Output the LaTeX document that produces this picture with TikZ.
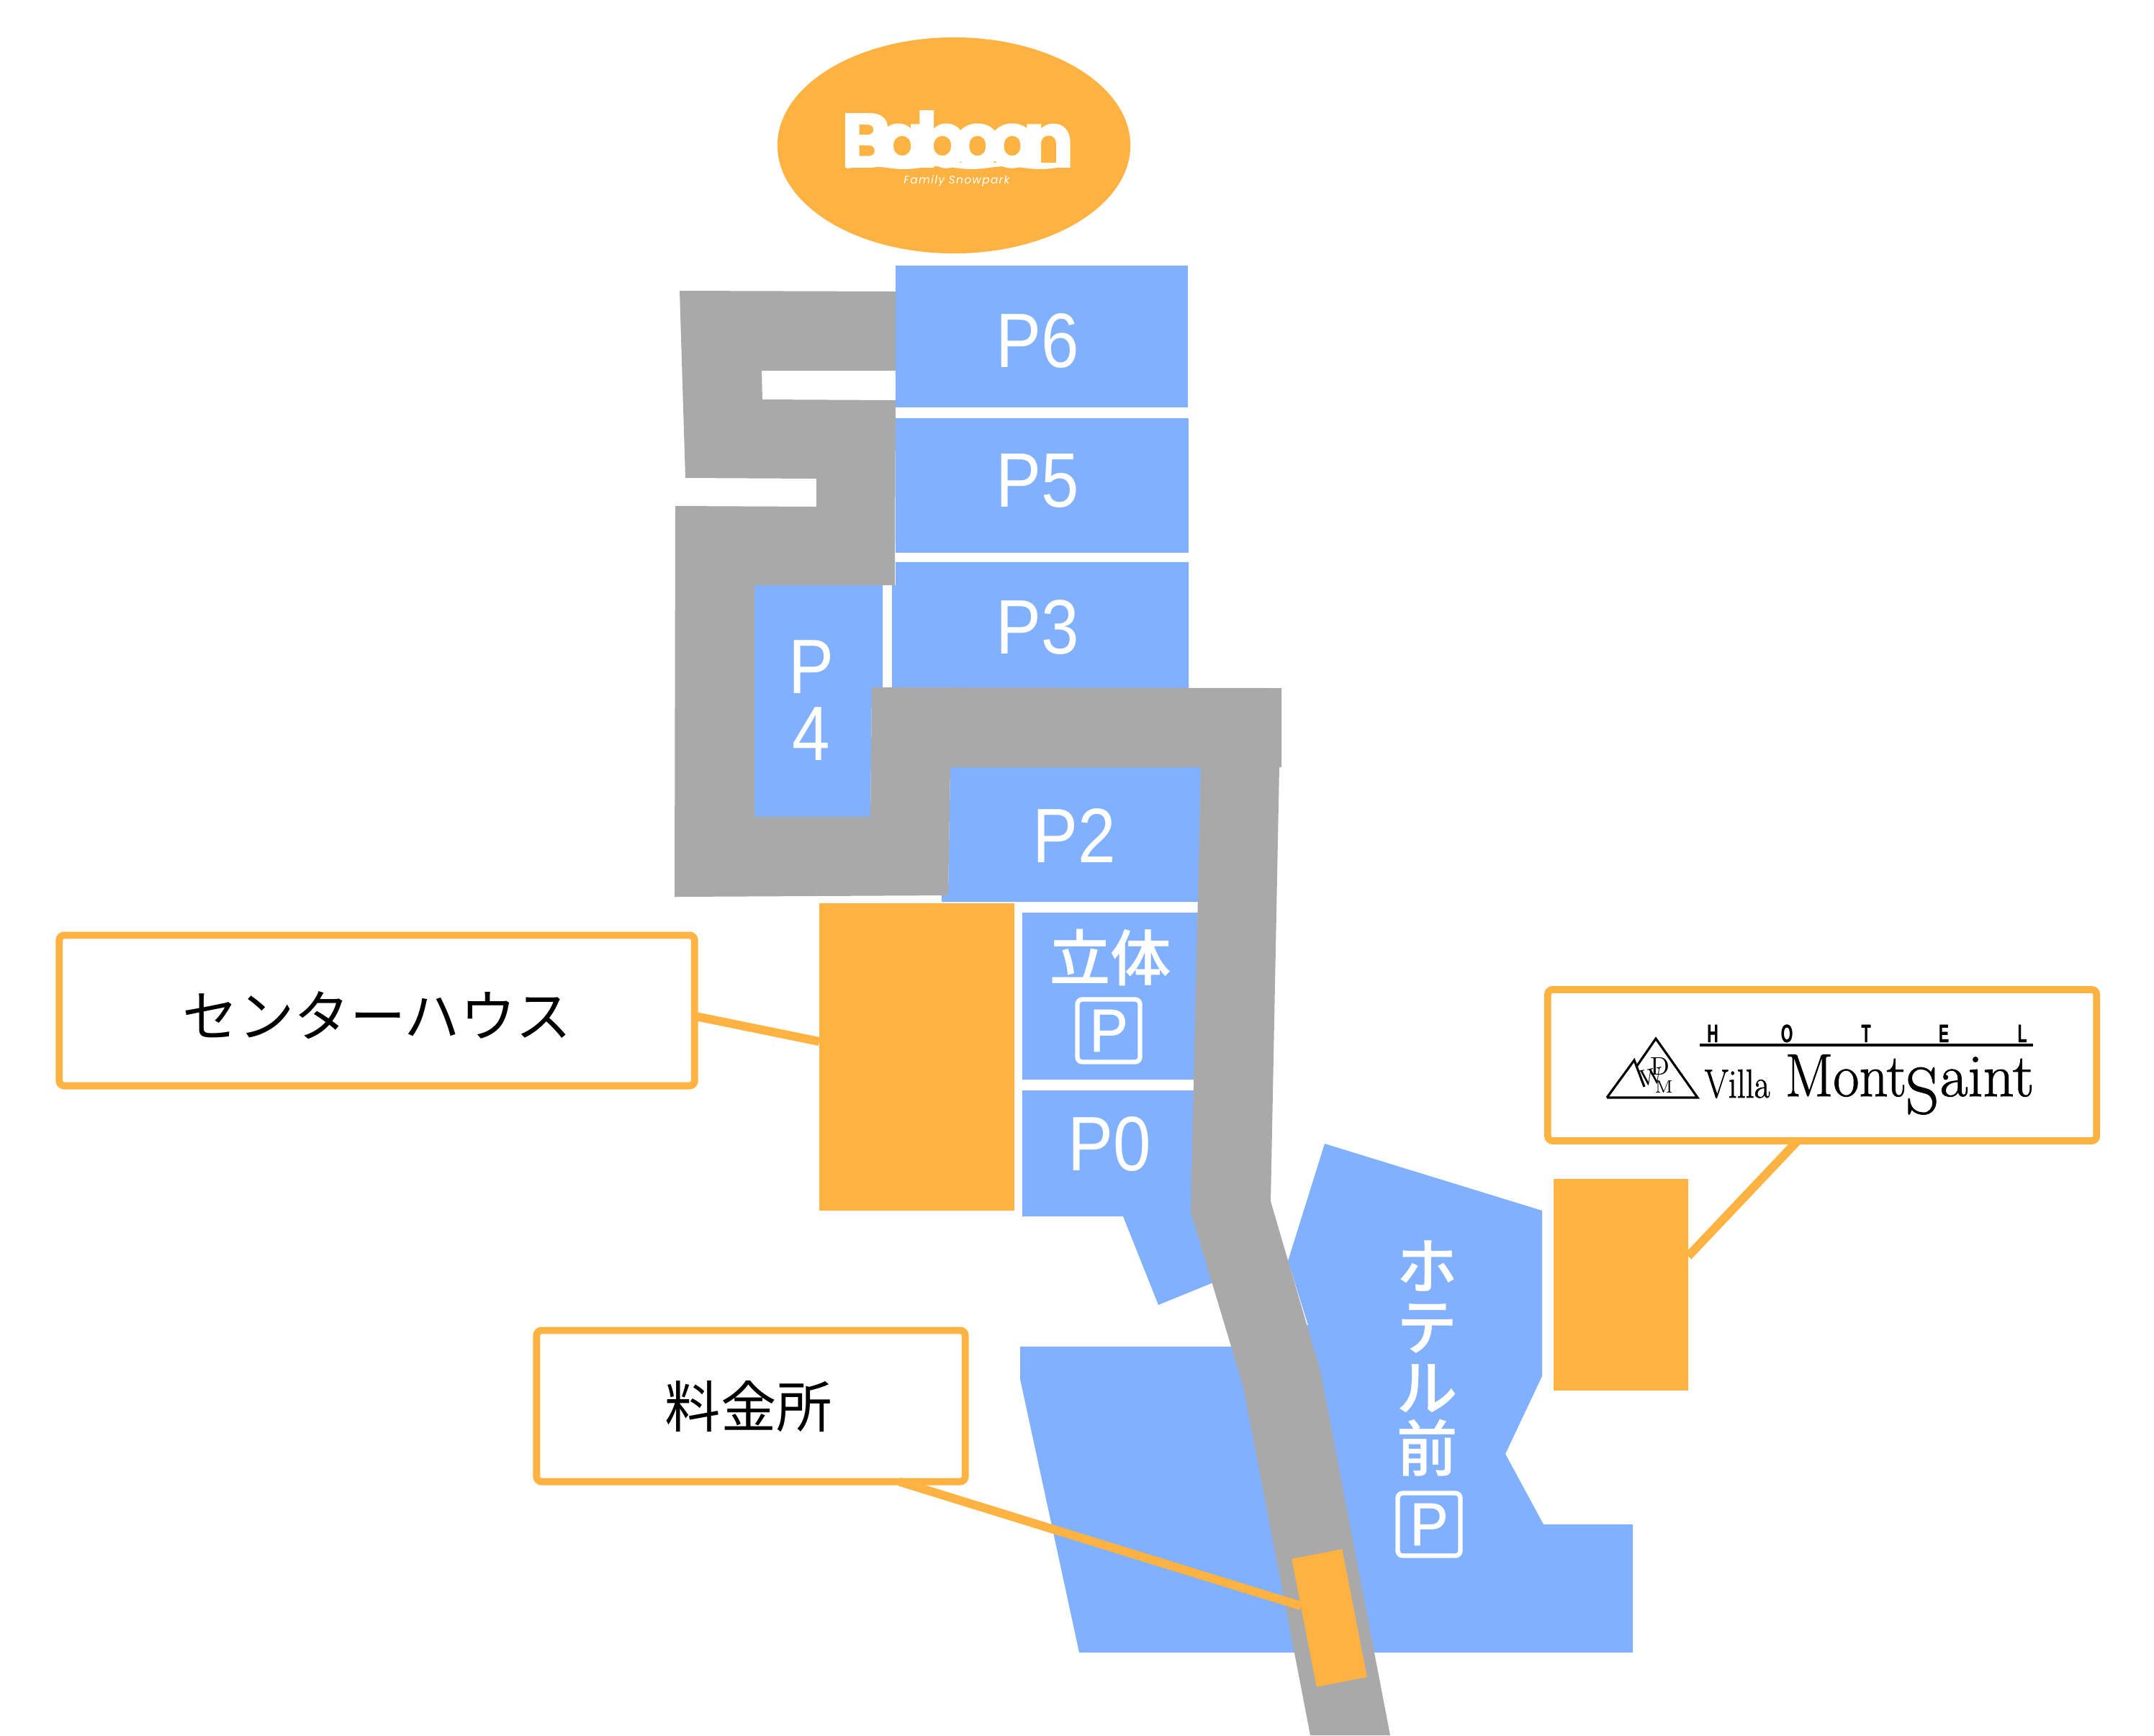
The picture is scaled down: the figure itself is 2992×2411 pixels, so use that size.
\documentclass[tikz,border=0pt]{standalone}
\usepackage{fontspec}
\usepackage{xcolor}
\usetikzlibrary{shapes,positioning}
\newfontfamily\lotfont[FakeStretch=0.88]{Liberation Sans}
\newfontfamily\pmarkfont[FakeStretch=0.95,FakeBold=0.8]{Liberation Sans}
\newfontfamily\jpfont{Noto Sans CJK JP}
\newfontfamily\jpmedium[FakeBold=0.5]{Noto Sans CJK JP Medium}
\newfontfamily\logofont[LetterSpace=-18,FakeBold=1.5]{Poppins}
\newfontfamily\logosmall[LetterSpace=8]{Poppins}
\newfontfamily\hotelfont[FakeStretch=0.6,FakeBold=0.8]{Liberation Sans}
\newfontfamily\didonefont[FakeBold=1.2]{Latin Modern Roman}
\definecolor{LotBlue}{RGB}{129,177,254}
\definecolor{RoadGray}{RGB}{169,169,169}
\definecolor{SpotOrange}{RGB}{254,178,65}
\tikzset{
    lot/.style={fill=LotBlue},
    road/.style={fill=RoadGray},
    spot/.style={rectangle,fill=SpotOrange,inner sep=0pt,outer sep=0pt},
    callout/.style={rectangle,draw=SpotOrange,fill=white,line width=2.8pt,rounded corners=2pt,inner sep=0pt,outer sep=0pt},
    pointer/.style={draw=SpotOrange,line width=3.4pt},
    lotname/.style={text=white,inner sep=0pt,align=center,font=\lotfont\fontsize{30.5pt}{26.5pt}\selectfont},
    jpname/.style={text=white,inner sep=0pt,align=center,font=\jpmedium\fontsize{24pt}{24pt}\selectfont},
    pmark/.style={rectangle,draw=white,line width=1.8pt,rounded corners=2pt,text=white,inner sep=0pt,minimum size=0.87cm,font=\pmarkfont\fontsize{24pt}{24pt}\selectfont},
    calloutname/.style={text=black,inner sep=0pt,font=\jpfont\fontsize{22pt}{22pt}\selectfont},
    logotext/.style={inner sep=0pt,anchor=base west,text=black}
}
\begin{document}
\begin{tikzpicture}[x=0.01cm,y=-0.01cm]
    \path[use as bounding box,fill=white] (0,0) rectangle (2992,2411);

    % parking lots
    \fill[lot] (1244,369) rectangle (1650,566);
    \fill[lot] (1244,581) rectangle (1651,768);
    \fill[lot] (1244,781) -- (1651,781) -- (1651,960) -- (1239,960) -- (1239,813) -- (1244,813) -- cycle;
    \fill[lot] (1048,813) -- (1226,813) -- (1226,960) -- (1211,960) -- (1209,1135) -- (1048,1135) -- cycle;
    \fill[lot] (1320,1066) -- (1670,1066) -- (1665,1253) -- (1308,1253) -- (1308,1240) -- (1317,1240) -- cycle;
    \fill[lot] (1420,1268) -- (1664,1268) -- (1660,1500) -- (1420,1500) -- cycle;
    \fill[lot] (1420,1515) -- (1660,1515) -- (1690,1780) -- (1609,1813) -- (1560,1690) -- (1420,1690) -- cycle;
    \fill[lot] (1840,1589) -- (2142,1682) -- (2142,1912) -- (2091,2020) -- (2144,2118) -- (2268,2118) -- (2268,2296)
        -- (1499,2296) -- (1417,1916) -- (1417,1871) -- (1740,1871) -- (1790,1841) -- (1817,1841) -- (1789,1752) -- cycle;

    % roads
    \fill[road] (944,404) -- (1244,405) -- (1244,515) -- (1058,515) -- (1059,555) -- (1244,556) -- (1243,813)
        -- (1048,813) -- (1048,1135) -- (1209,1135) -- (1211,955) -- (1780,956) -- (1780,1066) -- (1777,1066)
        -- (1765,1669) -- (1834,1905) -- (1931,2411) -- (1820,2411) -- (1727,1927) -- (1654,1684) -- (1668,1066)
        -- (1320,1066) -- (1317,1244) -- (937,1246) -- (938,703) -- (1134,704) -- (1134,665) -- (952,664) -- cycle;

    % lot names
    \node[lotname] (namepsix) at (1441,474) {P6};
    \node[lotname] (namepfive) at (1441,668) {P5};
    \node[lotname] (namepthree) at (1441,872) {P3};
    \node[lotname] (namepfour) at (1127,973) {P\\4};
    \node[lotname] (nameptwo) at (1492,1161) {P2};
    \node[lotname] (namepzero) at (1541,1590) {P0};
    \node[jpname] (nametower) at (1542,1330) {立体};
    \node[pmark] (ptower) at (1540,1432) {P};
    \node[jpname] (namefront) at (1982,1887) {ホ\\テ\\ル\\前};
    \node[pmark] (pfront) at (1985,2118) {P};

    % logo
    \node[ellipse,fill=SpotOrange,minimum width=4.9cm,minimum height=3cm,inner sep=0pt] (baboon) at (1325,202) {};
    \node[inner sep=0pt,anchor=base,text=white,font=\logofont\bfseries\fontsize{30pt}{30pt}\selectfont] (baboonname) at (1330,232) {Baboon};
    \fill[white] (1176,226) -- (1484,226) -- plot[domain=1484:1176,samples=50] (\x,{233+2*sin(\x*3.8)}) -- cycle;
    \node[inner sep=0pt,text=white,font=\logosmall\itshape\fontsize{4.4pt}{4.4pt}\selectfont] (baboonsub) at (1329,252) {Family Snowpark};

    % orange spots
    \node[spot,minimum width=2.71cm,minimum height=4.27cm] (house) at (1273.5,1468.5) {};
    \node[spot,minimum width=1.87cm,minimum height=2.94cm] (villa) at (2251.5,1785) {};

    % callouts
    \node[callout,minimum width=8.82cm,minimum height=2.09cm] (houselabel) at (523.5,1404) {};
    \node[calloutname] (housename) at (524,1411) {センターハウス};
    \node[callout,minimum width=5.95cm,minimum height=2.1cm] (tolllabel) at (1043,1953.5) {};
    \node[calloutname] (tollname) at (1040,1954) {料金所};
    \node[callout,minimum width=7.62cm,minimum height=2.1cm] (villalabel) at (2531,1480) {};

    % toll booth
    \node[spot,rotate=11,minimum width=0.714cm,minimum height=1.81cm] (booth) at (1846.5,2248) {};

    \draw[pointer] (houselabel.-1) -- (house.171);
    \draw[pointer] (tolllabel.-27) -- (booth.146);
    \draw[pointer] (villalabel.252) -- (villa.23);

    % hotel logo
    \draw[line width=0.9pt] (2232,1525) -- (2358,1525) -- (2300,1443) -- (2273,1482);
    \draw[line width=0.9pt] (2232,1525) -- (2270,1473) -- (2284,1510);
    \draw[line width=0.9pt] (2361,1452) -- (2824,1452);
    \node[logotext,font=\fontsize{10pt}{10pt}\selectfont] (logod) at (2292,1493) {D};
    \node[logotext,rotate=10,font=\fontsize{9pt}{9pt}\selectfont] (logow) at (2279,1510) {W};
    \node[logotext,font=\fontsize{7pt}{7pt}\selectfont] (logom) at (2298,1518) {M};
    \foreach \letter/\pos in {H/2379,O/2482,T/2592,E/2700,L/2809}
        \node[logotext,anchor=base,font=\hotelfont\bfseries\fontsize{10pt}{10pt}\selectfont] at (\pos,1448) {\letter};
    \node[logotext,transform shape,xscale=0.85,font=\didonefont\fontsize{16pt}{16pt}\selectfont] (logovilla) at (2367,1525) {Villa};
    \node[logotext,transform shape,xscale=0.93,font=\didonefont\fontsize{24pt}{24pt}\selectfont] (logomont) at (2479,1523) {Mont};
    \node[logotext,font=\didonefont\fontsize{26pt}{26pt}\selectfont] (logos) at (2646,1547) {S};
    \node[logotext,font=\didonefont\fontsize{24pt}{24pt}\selectfont] (logoaint) at (2694,1523) {aint};
\end{tikzpicture}
\end{document}
